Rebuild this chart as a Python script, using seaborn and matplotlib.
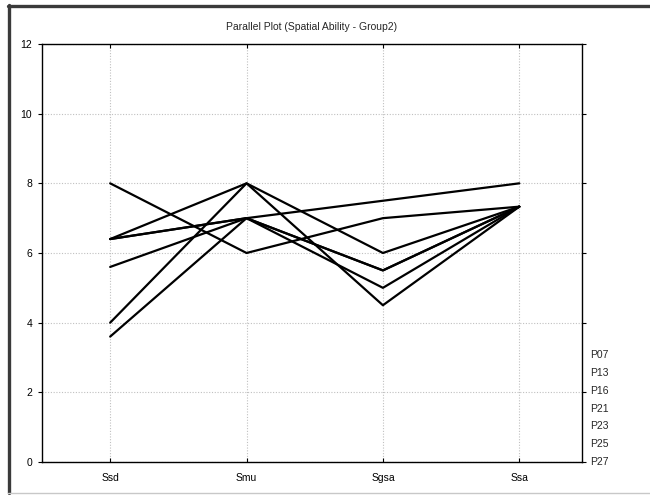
import pandas as pd
import matplotlib.pyplot as plt
import seaborn as sns
from matplotlib.lines import Line2D

sns.set_style('white')
plt.rcParams['font.family'] = ['Liberation Sans', 'DejaVu Sans']
plt.rcParams['font.size'] = 7.5

# 数据
variables = ['Ssd', 'Smu', 'Sgsa', 'Ssa']
participants = ['P07', 'P13', 'P16', 'P21', 'P23', 'P25', 'P27']
P07 = [6.4, 8.0, 6.0, 7.33]
P13 = [8.0, 6.0, 7.0, 7.33]
P16 = [6.4, 7.0, 7.5, 8.0]
P21 = [5.6, 7.0, 5.5, 7.33]
P23 = [4.0, 8.0, 4.5, 7.33]
P25 = [3.6, 7.0, 5.0, 7.33]
P27 = [6.4, 7.0, 5.5, 7.33]
yticks = [0, 2, 4, 6, 8, 10, 12]

rows = []
for name, vals in zip(participants, [P07, P13, P16, P21, P23, P25, P27]):
    for var, v in zip(variables, vals):
        rows.append({'participant': name, 'variable': var, 'value': v})
df = pd.DataFrame(rows)
df['pos'] = df['variable'].map({v: i for i, v in enumerate(variables)})

fig = plt.figure(figsize=(6.5, 4.95), dpi=100)
ax = fig.add_axes([0.0646, 0.0667, 0.8308, 0.8444])

sns.lineplot(data=df, x='pos', y='value', hue='participant',
             palette=['black'] * len(participants), legend=False,
             linewidth=1.6, ax=ax, sort=False, estimator=None)

ax.set_xlim(-0.5, 3.46)
ax.set_ylim(0, 12)
ax.set_xticks(range(len(variables)))
ax.set_xticklabels(variables)
ax.set_yticks(yticks)
ax.set_xlabel('')
ax.set_ylabel('')
ax.grid(True, linestyle=(0, (1, 1.5)), color='#c0c0c0', linewidth=0.8)
ax.set_axisbelow(True)
for s in ax.spines.values():
    s.set_visible(True)
    s.set_color('black')
    s.set_linewidth(1.0)
ax.tick_params(axis='y', direction='out', length=3, left=True, right=True,
               pad=4, labelsize=7.5, colors='black')
ax.tick_params(axis='x', direction='in', length=3, bottom=True, top=True,
               pad=8, labelsize=7.5, colors='black')

ax.set_title('Parallel Plot (Spatial Ability - Group2)', fontsize=7.5, pad=10)

# 右侧标签
for i, name in enumerate(participants):
    ax.text(1.015, (len(participants) - 1 - i) * 0.0426, name,
            transform=ax.transAxes, fontsize=7.5, va='center', ha='left')

# 外框
fig.add_artist(Line2D([0.0135, 0.0135], [0.004, 0.99], transform=fig.transFigure,
                      color='#3a3a3a', linewidth=2.4))
fig.add_artist(Line2D([0.012, 1.0], [0.987, 0.987], transform=fig.transFigure,
                      color='#3a3a3a', linewidth=2.4))
fig.add_artist(Line2D([0.012, 1.0], [0.004, 0.004], transform=fig.transFigure,
                      color='#c8c8c8', linewidth=1.0))

fig.savefig('out.png', dpi=100)
plt.close()
